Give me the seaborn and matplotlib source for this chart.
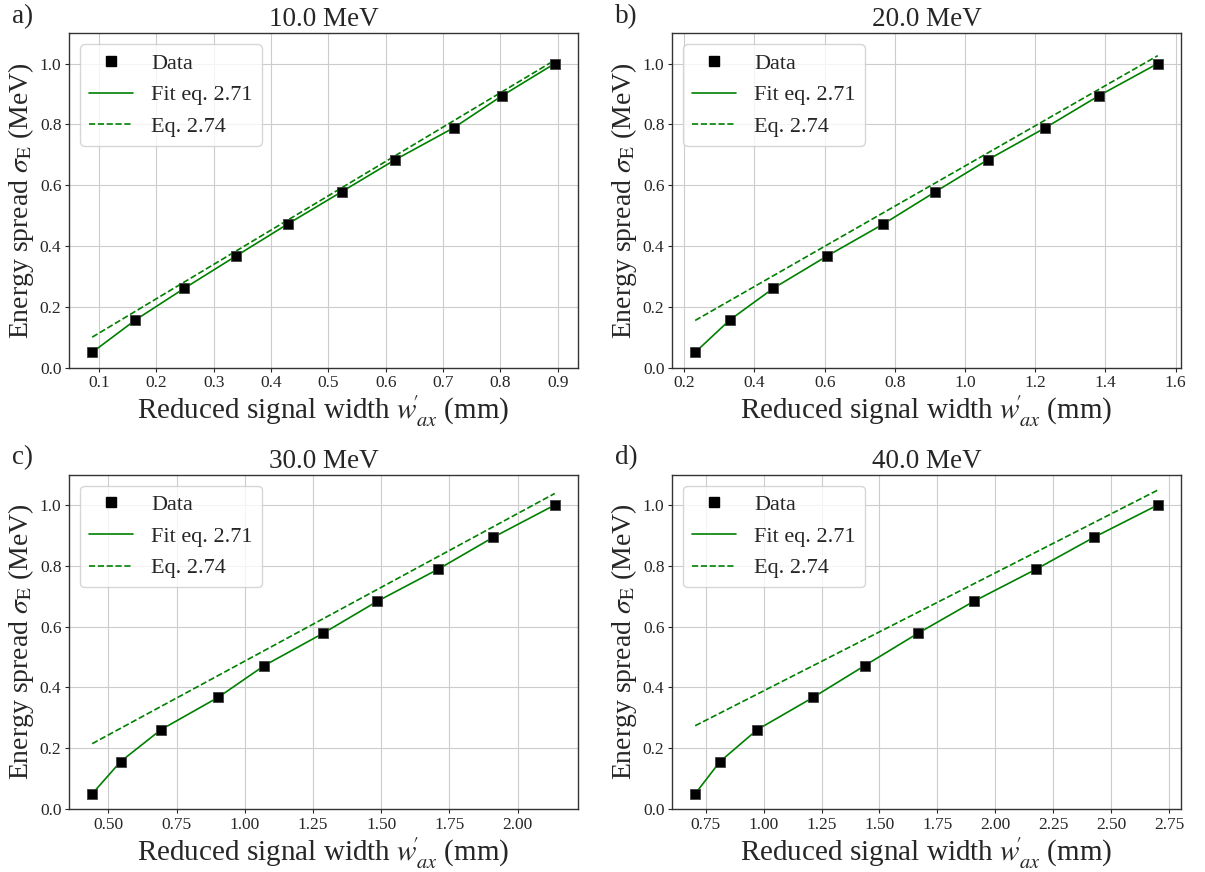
import matplotlib
matplotlib.use("Agg")
import matplotlib.pyplot as plt
import seaborn as sns
from matplotlib.lines import Line2D

# Beam energies of the four panels
energies = [10.0, 20.0, 30.0, 40.0]
panel_tags = ["a)", "b)", "c)", "d)"]

# Energy spread sigma_E (MeV), shared by all panels
sigma_e = [0.05, 0.156, 0.261, 0.367, 0.472, 0.578, 0.683, 0.789, 0.894, 1.0]

# Reduced signal width w'_ax (mm) per energy
width_10 = [0.088, 0.163, 0.249, 0.339, 0.429, 0.523, 0.616, 0.719, 0.803, 0.895]
width_20 = [0.231, 0.329, 0.454, 0.607, 0.767, 0.915, 1.064, 1.229, 1.381, 1.549]
width_30 = [0.441, 0.545, 0.693, 0.902, 1.072, 1.287, 1.485, 1.709, 1.911, 2.136]
width_40 = [0.704, 0.811, 0.972, 1.213, 1.437, 1.666, 1.907, 2.177, 2.427, 2.702]

# Fit of eq. 2.71 evaluated at the measured widths
fit_10 = [0.05, 0.156, 0.261, 0.367, 0.472, 0.578, 0.683, 0.789, 0.894, 1.0]
fit_20 = [0.05, 0.156, 0.261, 0.367, 0.472, 0.578, 0.683, 0.789, 0.894, 1.0]
fit_30 = [0.05, 0.156, 0.261, 0.367, 0.472, 0.578, 0.683, 0.789, 0.894, 1.0]
fit_40 = [0.05, 0.156, 0.261, 0.367, 0.472, 0.578, 0.683, 0.789, 0.894, 1.0]

# Eq. 2.74 (linear) at the first and last width
eq_10 = [0.100, 1.011]
eq_20 = [0.155, 1.026]
eq_30 = [0.215, 1.038]
eq_40 = [0.274, 1.049]

widths = [width_10, width_20, width_30, width_40]
fits = [fit_10, fit_20, fit_30, fit_40]
eqs = [eq_10, eq_20, eq_30, eq_40]

sns.set_style("whitegrid", {
    "axes.edgecolor": ".2",
    "grid.color": ".8",
    "xtick.bottom": True,
    "ytick.left": True,
    "xtick.color": ".15",
    "ytick.color": ".15",
})
plt.rcParams["font.family"] = ["Liberation Serif", "DejaVu Serif"]
plt.rcParams["mathtext.fontset"] = "stix"
plt.rcParams["xtick.major.size"] = 3
plt.rcParams["ytick.major.size"] = 3
plt.rcParams["xtick.major.pad"] = 2.5
plt.rcParams["ytick.major.pad"] = 2.5
plt.rcParams["axes.linewidth"] = 1.0

fig, axes = plt.subplots(2, 2, figsize=(12.05, 8.72), dpi=100)
fig.subplots_adjust(left=0.0573, right=0.980, top=0.962, bottom=0.0722,
                    wspace=0.185, hspace=0.32)

green = "green"
for ax, energy, tag, w, fit, eq in zip(axes.flat, energies, panel_tags, widths, fits, eqs):
    sns.lineplot(x=w, y=fit, ax=ax, color=green, linewidth=1.2, zorder=2)
    sns.lineplot(x=[w[0], w[-1]], y=eq, ax=ax, color=green, linewidth=1.2,
                 linestyle="--", zorder=2)
    sns.scatterplot(x=w, y=sigma_e, ax=ax, marker="s", color="black",
                    s=55, edgecolor="0.25", linewidth=0.6, zorder=3)
    ax.set_ylim(0, 1.1)
    ax.set_title(f"{energy} MeV", fontsize=19.5, pad=5)
    ax.text(-0.112, 1.012, tag, transform=ax.transAxes, fontsize=19.5,
            ha="left", va="bottom")
    ax.set_xlabel(r"Reduced signal width $w^{\!\!\prime}_{ax}$ (mm)",
                  fontsize=21, labelpad=2)
    ax.set_ylabel(r"Energy spread $\sigma_\mathrm{E}$ (MeV)", fontsize=20,
                  labelpad=3)
    ax.tick_params(labelsize=12.5)
    handles = [
        Line2D([], [], marker="s", color="black", linestyle="none", markersize=7),
        Line2D([], [], color=green, linewidth=1.2),
        Line2D([], [], color=green, linewidth=1.2, linestyle="--"),
    ]
    ax.legend(handles, ["Data", "Fit eq. 2.71", "Eq. 2.74"], loc="upper left",
              fontsize=16, numpoints=1, frameon=True)

fig.savefig("out.png", dpi=100)
